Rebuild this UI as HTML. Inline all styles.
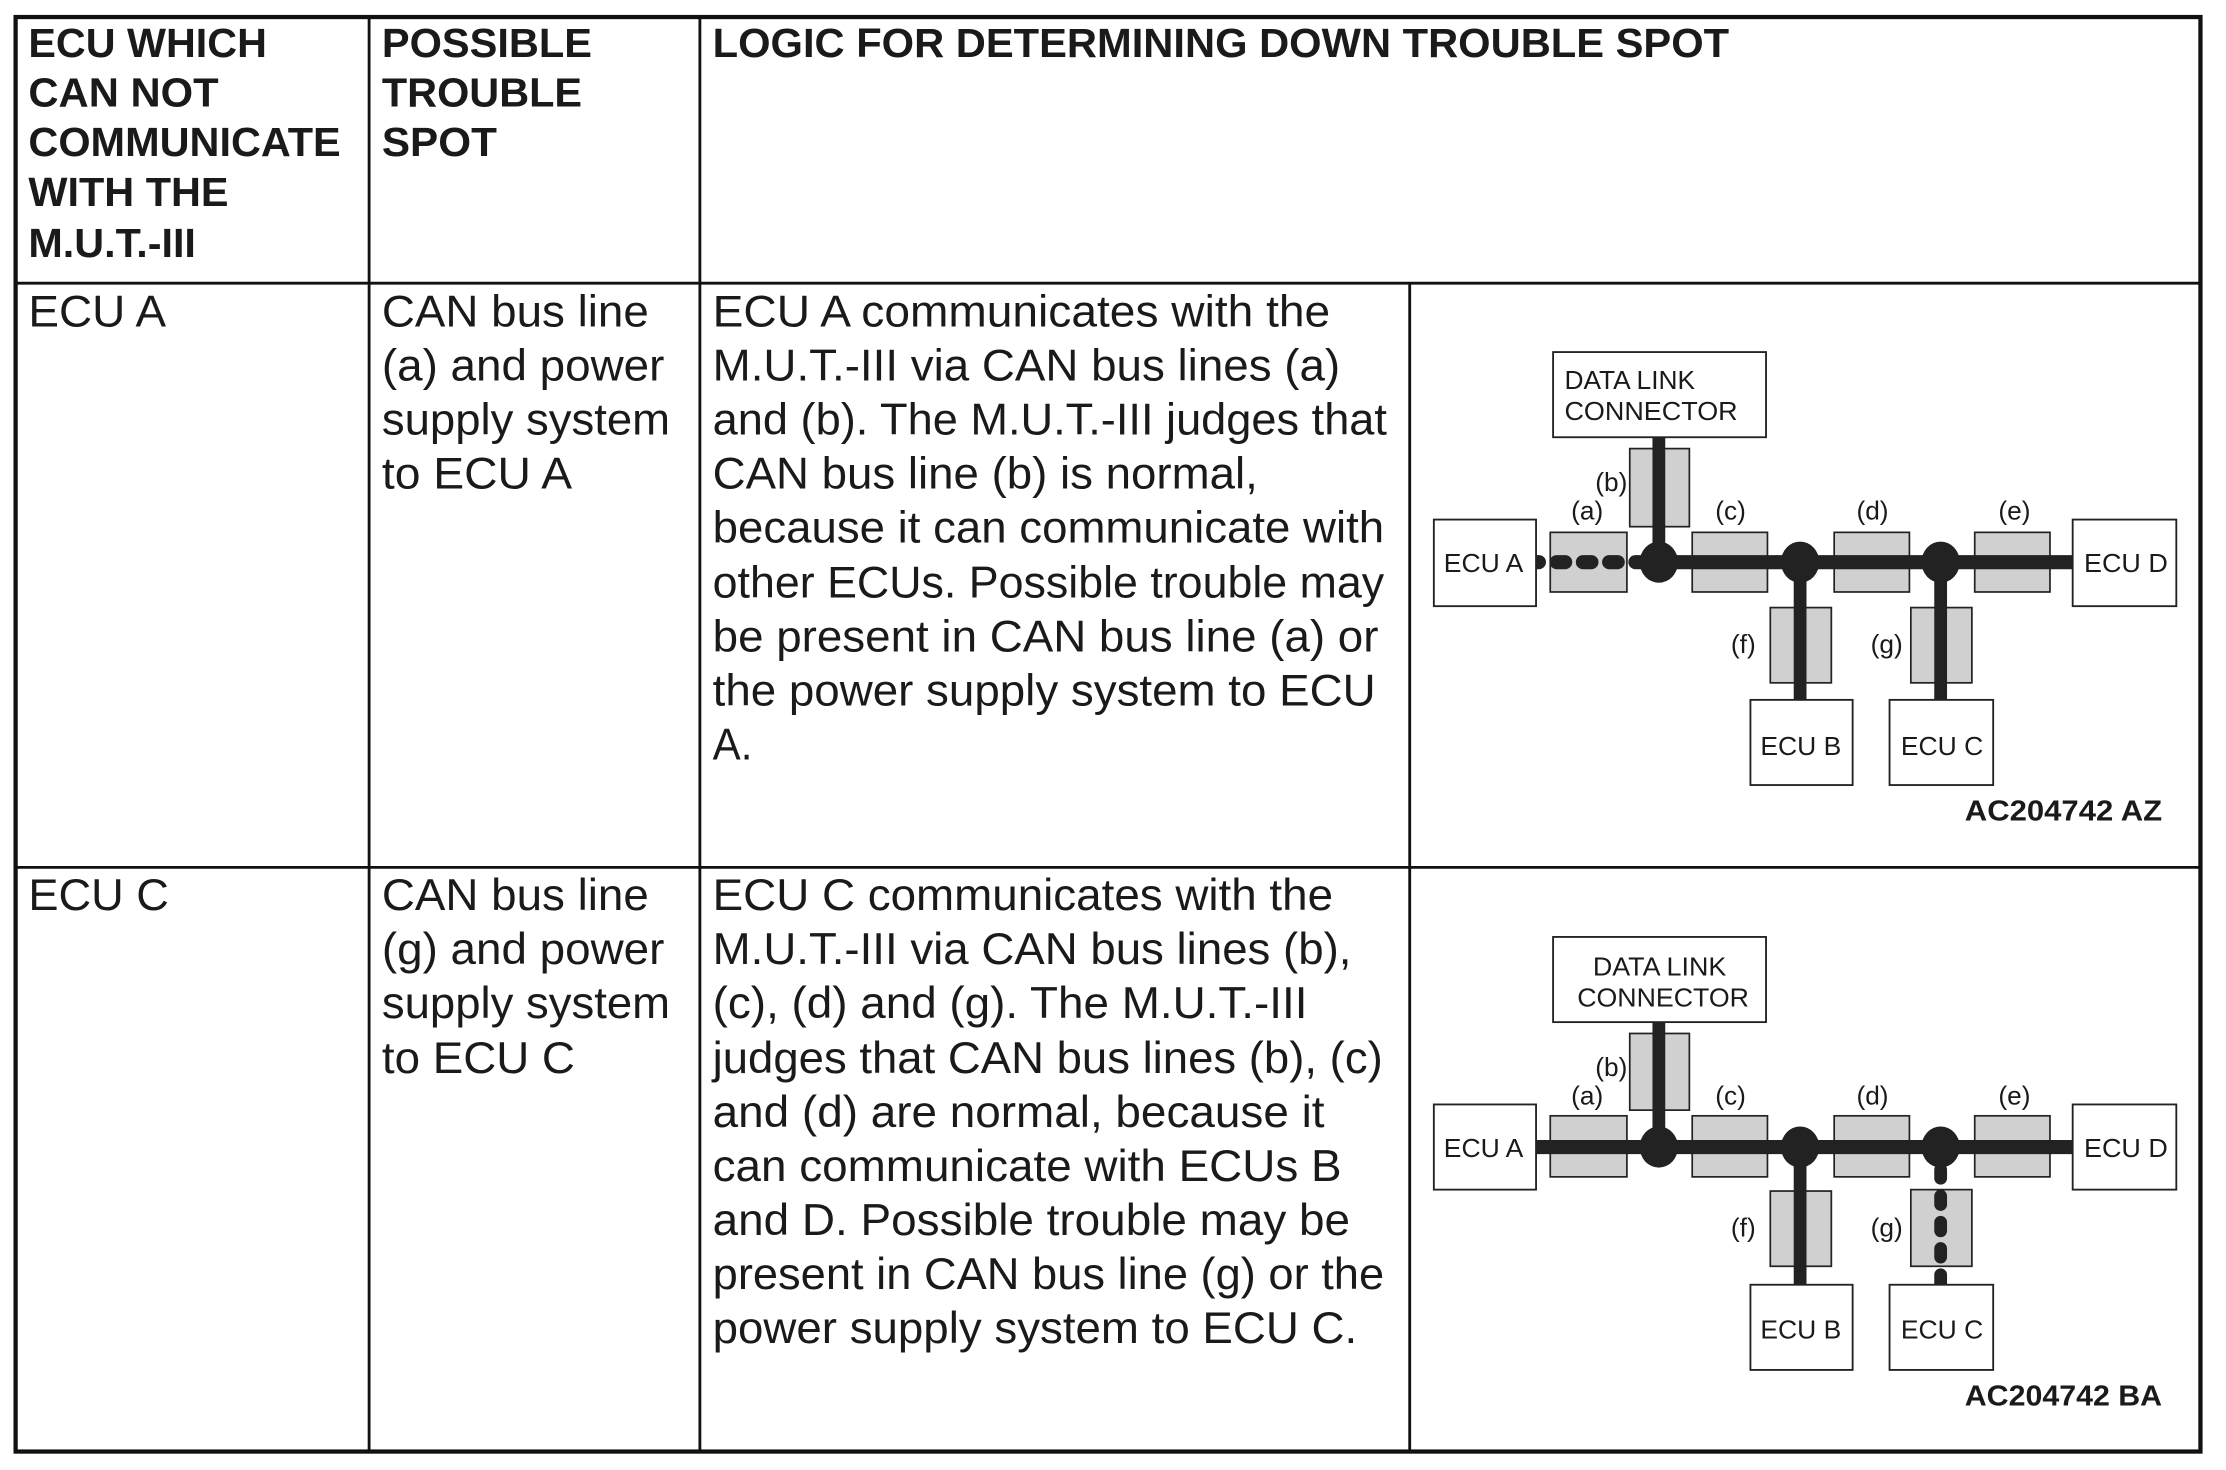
<!DOCTYPE html>
<html><head><meta charset="utf-8"><style>
html,body{margin:0;padding:0;background:#fff}
svg{display:block}
text{font-family:"Liberation Sans",sans-serif;fill:#1a1a1a}
.h{font-size:29px;font-weight:bold}
.b{font-size:31.5px}
.d{font-size:18.5px}
.l{font-size:18.5px;text-anchor:middle}
.c{font-size:20px;font-weight:bold}
.g{fill:#d0d0d0;stroke:#222;stroke-width:1.2}
.w{fill:#fff;stroke:#222;stroke-width:1.3}
.bus{stroke:#222;stroke-width:10;fill:none}
.v{stroke:#222;stroke-width:9;fill:none}
</style></head><body>
<svg width="2226" height="1470" viewBox="0 0 1568 1035.5" preserveAspectRatio="none" xmlns="http://www.w3.org/2000/svg">
<rect width="1568" height="1036" fill="#fff"/>
<g stroke="#111" stroke-width="2" fill="none">
<path d="M260 12V1022M493 12V1022M993 199V1022M11 199.5H1550M11 611H1550"/>
<rect x="11" y="12" width="1539" height="1010.5" stroke-width="3"/>
</g>
<g class="h">
<text x="20" y="40" textLength="168" lengthAdjust="spacingAndGlyphs">ECU WHICH</text>
<text x="20" y="75" textLength="134" lengthAdjust="spacingAndGlyphs">CAN NOT</text>
<text x="20" y="110" textLength="220" lengthAdjust="spacingAndGlyphs">COMMUNICATE</text>
<text x="20" y="145" textLength="141" lengthAdjust="spacingAndGlyphs">WITH THE</text>
<text x="20" y="181" textLength="118" lengthAdjust="spacingAndGlyphs">M.U.T.-III</text>
<text x="269" y="40" textLength="148" lengthAdjust="spacingAndGlyphs">POSSIBLE</text>
<text x="269" y="75" textLength="141" lengthAdjust="spacingAndGlyphs">TROUBLE</text>
<text x="269" y="110" textLength="81" lengthAdjust="spacingAndGlyphs">SPOT</text>
<text x="502" y="40" textLength="716" lengthAdjust="spacingAndGlyphs">LOGIC FOR DETERMINING DOWN TROUBLE SPOT</text>
</g>
<g class="b">
<text x="20" y="230" textLength="97" lengthAdjust="spacingAndGlyphs">ECU A</text>
<text x="269" y="230" textLength="188" lengthAdjust="spacingAndGlyphs">CAN bus line</text>
<text x="269" y="268" textLength="199" lengthAdjust="spacingAndGlyphs">(a) and power</text>
<text x="269" y="306" textLength="203" lengthAdjust="spacingAndGlyphs">supply system</text>
<text x="269" y="344" textLength="134" lengthAdjust="spacingAndGlyphs">to ECU A</text>
<text x="502" y="230" textLength="435" lengthAdjust="spacingAndGlyphs">ECU A communicates with the</text>
<text x="502" y="268" textLength="442" lengthAdjust="spacingAndGlyphs">M.U.T.-III via CAN bus lines (a)</text>
<text x="502" y="306" textLength="475" lengthAdjust="spacingAndGlyphs">and (b). The M.U.T.-III judges that</text>
<text x="502" y="344" textLength="384" lengthAdjust="spacingAndGlyphs">CAN bus line (b) is normal,</text>
<text x="502" y="382" textLength="473" lengthAdjust="spacingAndGlyphs">because it can communicate with</text>
<text x="502" y="421" textLength="473" lengthAdjust="spacingAndGlyphs">other ECUs. Possible trouble may</text>
<text x="502" y="459" textLength="469" lengthAdjust="spacingAndGlyphs">be present in CAN bus line (a) or</text>
<text x="502" y="497" textLength="467" lengthAdjust="spacingAndGlyphs">the power supply system to ECU</text>
<text x="502" y="535" textLength="28" lengthAdjust="spacingAndGlyphs">A.</text>
<text x="20" y="641" textLength="99" lengthAdjust="spacingAndGlyphs">ECU C</text>
<text x="269" y="641" textLength="188" lengthAdjust="spacingAndGlyphs">CAN bus line</text>
<text x="269" y="679" textLength="199" lengthAdjust="spacingAndGlyphs">(g) and power</text>
<text x="269" y="717" textLength="203" lengthAdjust="spacingAndGlyphs">supply system</text>
<text x="269" y="756" textLength="136" lengthAdjust="spacingAndGlyphs">to ECU C</text>
<text x="502" y="641" textLength="437" lengthAdjust="spacingAndGlyphs">ECU C communicates with the</text>
<text x="502" y="679" textLength="450" lengthAdjust="spacingAndGlyphs">M.U.T.-III via CAN bus lines (b),</text>
<text x="502" y="717" textLength="419" lengthAdjust="spacingAndGlyphs">(c), (d) and (g). The M.U.T.-III</text>
<text x="502" y="756" textLength="472" lengthAdjust="spacingAndGlyphs">judges that CAN bus lines (b), (c)</text>
<text x="502" y="794" textLength="431" lengthAdjust="spacingAndGlyphs">and (d) are normal, because it</text>
<text x="502" y="832" textLength="443" lengthAdjust="spacingAndGlyphs">can communicate with ECUs B</text>
<text x="502" y="870" textLength="449" lengthAdjust="spacingAndGlyphs">and D. Possible trouble may be</text>
<text x="502" y="908" textLength="473" lengthAdjust="spacingAndGlyphs">present in CAN bus line (g) or the</text>
<text x="502" y="946" textLength="454" lengthAdjust="spacingAndGlyphs">power supply system to ECU C.</text>
</g>

<!-- Diagram 1 -->
<g>
<rect class="g" x="1148" y="316" width="42" height="55"/>
<rect class="g" x="1092" y="375" width="54" height="42"/>
<rect class="g" x="1192" y="375" width="53" height="42"/>
<rect class="g" x="1292" y="375" width="53" height="42"/>
<rect class="g" x="1391" y="375" width="53" height="42"/>
<rect class="g" x="1247" y="428" width="43" height="53"/>
<rect class="g" x="1346" y="428" width="43" height="53"/>
<path class="v" d="M1168.5 308V396M1268 396V493M1367 396V493"/>
<path class="bus" d="M1168 396H1460"/>
<path d="M1078 396H1160" stroke="#222" stroke-width="10" stroke-dasharray="6 12.5" stroke-linecap="round" fill="none"/>
<ellipse cx="1168.5" cy="396" rx="13.5" ry="14.5" fill="#222"/><ellipse cx="1268" cy="396" rx="13.5" ry="14.5" fill="#222"/><ellipse cx="1367" cy="396" rx="13.5" ry="14.5" fill="#222"/>
<rect class="w" x="1094" y="248" width="150" height="60"/>
<rect class="w" x="1010" y="366" width="72" height="61"/>
<rect class="w" x="1460" y="366" width="73" height="61"/>
<rect class="w" x="1233" y="493" width="72" height="60"/>
<rect class="w" x="1331" y="493" width="73" height="60"/>
<g class="d">
<text x="1102" y="274" textLength="92" lengthAdjust="spacingAndGlyphs">DATA LINK</text>
<text x="1102" y="296" textLength="122" lengthAdjust="spacingAndGlyphs">CONNECTOR</text>
<text x="1017" y="403" textLength="56" lengthAdjust="spacingAndGlyphs">ECU A</text>
<text x="1468" y="403" textLength="59" lengthAdjust="spacingAndGlyphs">ECU D</text>
<text x="1240" y="532" textLength="57" lengthAdjust="spacingAndGlyphs">ECU B</text>
<text x="1339" y="532" textLength="58" lengthAdjust="spacingAndGlyphs">ECU C</text>
</g>
<g class="l">
<text x="1135" y="346">(b)</text><text x="1118" y="366">(a)</text><text x="1219" y="366">(c)</text>
<text x="1319" y="366">(d)</text><text x="1419" y="366">(e)</text><text x="1228" y="460">(f)</text><text x="1329" y="460">(g)</text>
</g>
<text class="c" x="1384" y="578" textLength="139" lengthAdjust="spacingAndGlyphs">AC204742 AZ</text>
</g>

<!-- Diagram 2 -->
<g>
<rect class="g" x="1148" y="728" width="42" height="54"/>
<rect class="g" x="1092" y="786" width="54" height="43"/>
<rect class="g" x="1192" y="786" width="53" height="43"/>
<rect class="g" x="1292" y="786" width="53" height="43"/>
<rect class="g" x="1391" y="786" width="53" height="43"/>
<rect class="g" x="1247" y="839" width="43" height="53"/>
<rect class="g" x="1346" y="838" width="43" height="54"/>
<path class="v" d="M1168.5 720V808M1268 808V905"/>
<path class="bus" d="M1082 808H1460"/>
<path d="M1367 824V905" stroke="#222" stroke-width="9" stroke-dasharray="6 12.5" stroke-linecap="round" fill="none"/>
<ellipse cx="1168.5" cy="808" rx="13.5" ry="14.5" fill="#222"/><ellipse cx="1268" cy="808" rx="13.5" ry="14.5" fill="#222"/><ellipse cx="1367" cy="808" rx="13.5" ry="14.5" fill="#222"/>
<rect class="w" x="1094" y="660" width="150" height="60"/>
<rect class="w" x="1010" y="778" width="72" height="60"/>
<rect class="w" x="1460" y="778" width="73" height="60"/>
<rect class="w" x="1233" y="905" width="72" height="60"/>
<rect class="w" x="1331" y="905" width="73" height="60"/>
<g class="d">
<text x="1122" y="687" textLength="94" lengthAdjust="spacingAndGlyphs">DATA LINK</text>
<text x="1111" y="709" textLength="121" lengthAdjust="spacingAndGlyphs">CONNECTOR</text>
<text x="1017" y="815" textLength="56" lengthAdjust="spacingAndGlyphs">ECU A</text>
<text x="1468" y="815" textLength="59" lengthAdjust="spacingAndGlyphs">ECU D</text>
<text x="1240" y="943" textLength="57" lengthAdjust="spacingAndGlyphs">ECU B</text>
<text x="1339" y="943" textLength="58" lengthAdjust="spacingAndGlyphs">ECU C</text>
</g>
<g class="l">
<text x="1135" y="758">(b)</text><text x="1118" y="778">(a)</text><text x="1219" y="778">(c)</text>
<text x="1319" y="778">(d)</text><text x="1419" y="778">(e)</text><text x="1228" y="871">(f)</text><text x="1329" y="871">(g)</text>
</g>
<text class="c" x="1384" y="990" textLength="139" lengthAdjust="spacingAndGlyphs">AC204742 BA</text>
</g>
</svg>
</body></html>
